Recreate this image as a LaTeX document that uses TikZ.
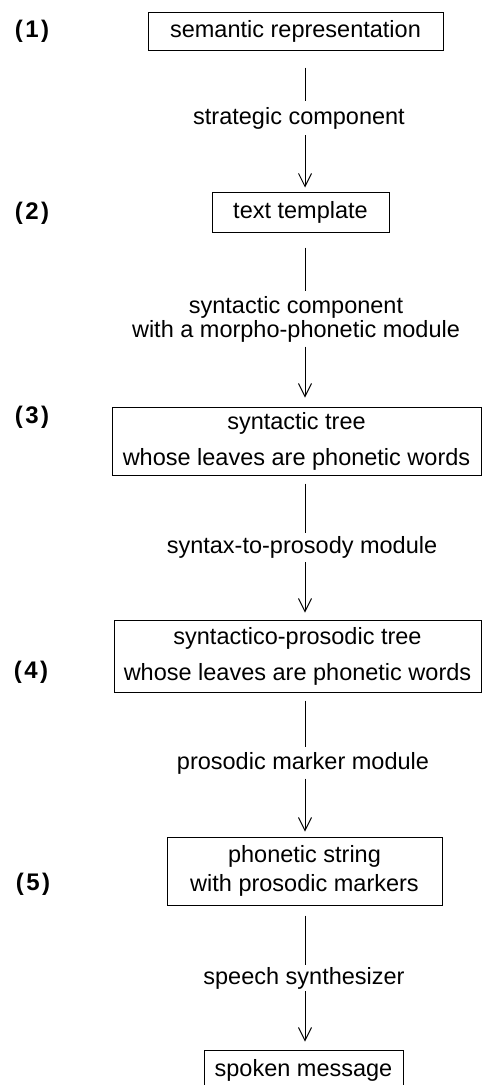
\documentclass[tikz,border=0pt]{standalone}
\usepackage{fontspec}
\setmainfont{Liberation Sans}
\usetikzlibrary{arrows.meta}
\newcommand{\numlab}[1]{(\kern2.5pt#1\kern2.5pt)}
\begin{document}
\begin{tikzpicture}[x=1pt,y=-1pt,
  every node/.style={font=\fontsize{23.5}{26}\selectfont},
  box/.style={draw, line width=1pt, inner sep=0pt, align=center},
  lab/.style={inner sep=0pt, align=center, minimum width=10pt},
  num/.style={font=\fontsize{24}{26}\selectfont\bfseries},
  conn/.style={line width=1pt},
  arr/.style={line width=1pt, -{Straight Barb[length=13pt,width=13pt,line width=1pt]}}]
\useasboundingbox (0,0) rectangle (482,1085);
\clip (0,0) rectangle (482,1085);
\coordinate (ax) at (305,0);
% boxes
\node[box, minimum width=295, minimum height=38] (b1) at (295.5,31) {semantic representation};
\node[box, minimum width=177, minimum height=40] (b2) at (300.5,212) {text template};
\node[box, minimum width=369, minimum height=68, font=\fontsize{23.5}{36}\selectfont] (b3) at (296.5,441) {syntactic tree\\whose leaves are phonetic words};
\node[box, minimum width=367, minimum height=72, font=\fontsize{23.5}{36}\selectfont] (b4) at (297.5,656) {syntactico-prosodic tree\\whose leaves are phonetic words};
\node[box, minimum width=275, minimum height=68, font=\fontsize{23.5}{29}\selectfont] (b5) at (304.5,871) {phonetic string\\with prosodic markers};
\node[box, minimum width=199, minimum height=40] (b6) at (303.5,1070) {spoken message};
% labels
\node[lab, minimum height=34] (l1) at (299,118) {strategic component};
\node[lab, minimum height=55, font=\fontsize{23.5}{24}\selectfont] (l2) at (296,319) {syntactic component\\with a morpho-phonetic module};
\node[lab, minimum height=29] (l3) at (302,547.5) {syntax-to-prosody module};
\node[lab, minimum height=31] (l4) at (303,763) {prosodic marker module};
\node[lab, minimum height=26] (l5) at (304,978) {speech synthesizer};
% numbers
\node[num] (n1) at (32,31) {\numlab{1}};
\node[num] (n2) at (32,213) {\numlab{2}};
\node[num] (n3) at (32,417) {\numlab{3}};
\node[num] (n4) at (31,672) {\numlab{4}};
\node[num] (n5) at (33,884) {\numlab{5}};
% connectors
\draw[conn, shorten <=17pt] (b1.south -| ax) -- (l1.north -| ax);
\draw[arr, shorten >=4pt] (l1.south -| ax) -- (b2.north -| ax);
\draw[conn, shorten <=15pt] (b2.south -| ax) -- (l2.north -| ax);
\draw[arr, shorten >=9pt] (l2.south -| ax) -- (b3.north -| ax);
\draw[conn, shorten <=8pt] (b3.south -| ax) -- (l3.north -| ax);
\draw[arr, shorten >=7pt] (l3.south -| ax) -- (b4.north -| ax);
\draw[conn, shorten <=8pt] (b4.south -| ax) -- (l4.north -| ax);
\draw[arr, shorten >=5pt] (l4.south -| ax) -- (b5.north -| ax);
\draw[conn, shorten <=10pt] (b5.south -| ax) -- (l5.north -| ax);
\draw[arr, shorten >=8pt] (l5.south -| ax) -- (b6.north -| ax);
\end{tikzpicture}
\end{document}
